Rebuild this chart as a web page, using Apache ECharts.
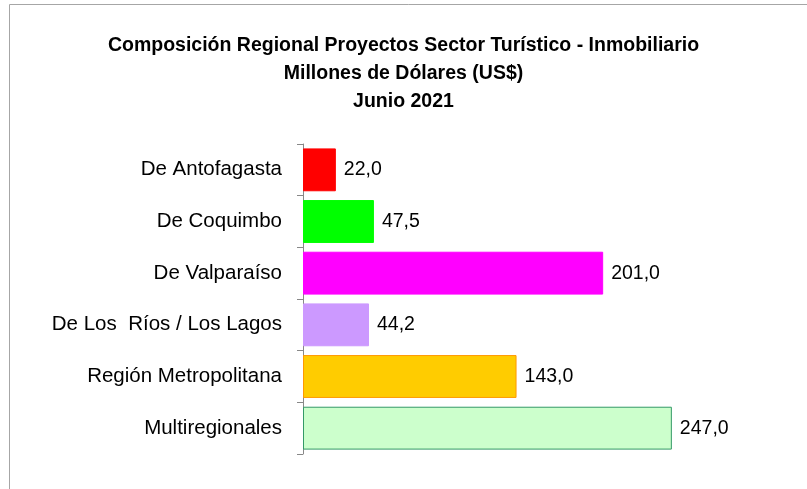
<!DOCTYPE html>
<html>
<head>
<meta charset="utf-8">
<script src="https://cdn.jsdelivr.net/npm/echarts@6/dist/echarts.min.js"></script>
<style>
  html, body { margin: 0; padding: 0; background: #fff; }
  #chart { width: 807px; height: 489px; }
</style>
</head>
<body>
<div id="chart"></div>
<script>
const regiones = ['De Antofagasta', 'De Coquimbo', 'De Valparaíso', 'De Los  Ríos / Los Lagos', 'Región Metropolitana', 'Multiregionales']
const montos = [22.0, 47.5, 201.0, 44.2, 143.0, 247.0]
const rellenos = ['#ff0000', '#00ff00', '#ff00ff', '#cc99ff', '#ffcc00', '#ccffcc']
const bordes = ['#ff0000', '#00ff00', '#ff00ff', '#cc99ff', '#ff9900', '#339966']

const chart = echarts.init(document.getElementById('chart'), null, { renderer: 'canvas' })

const fuente = 'Liberation Sans'

chart.setOption({
    animation: false,
    backgroundColor: '#fff',
    title: {
        text: 'Composición Regional Proyectos Sector Turístico - Inmobiliario\nMillones de Dólares (US$)\nJunio 2021',
        left: 'center',
        top: 27,
        textStyle: {
            fontFamily: fuente,
            fontWeight: 'bold',
            fontSize: 19.5,
            lineHeight: 28,
            color: '#000'
        }
    },
    graphic: [{
        type: 'rect',
        shape: { x: 9.5, y: 4.5, width: 820, height: 500 },
        style: { fill: 'none', stroke: '#a6a6a6', lineWidth: 1 },
        silent: true
    }],
    grid: { left: 303, top: 144, width: 448, height: 310 },
    xAxis: {
        type: 'value',
        min: 0,
        max: 300,
        show: false
    },
    yAxis: {
        type: 'category',
        data: regiones,
        inverse: true,
        axisLine: { show: true, lineStyle: { color: '#888', width: 1 } },
        axisTick: { show: true, length: 6, lineStyle: { color: '#888' } },
        axisLabel: {
            margin: 21,
            fontFamily: fuente,
            fontSize: 20.5,
            color: '#000'
        }
    },
    series: [{
        type: 'bar',
        data: montos.map((v, i) => ({
            value: v,
            itemStyle: { color: rellenos[i], borderColor: bordes[i], borderWidth: 1 }
        })),
        barCategoryGap: '17%',
        label: {
            show: true,
            position: 'right',
            distance: 8,
            fontFamily: fuente,
            fontSize: 19.5,
            color: '#000',
            formatter: p => p.value.toFixed(1).replace('.', ',')
        }
    }]
})
</script>
</body>
</html>
